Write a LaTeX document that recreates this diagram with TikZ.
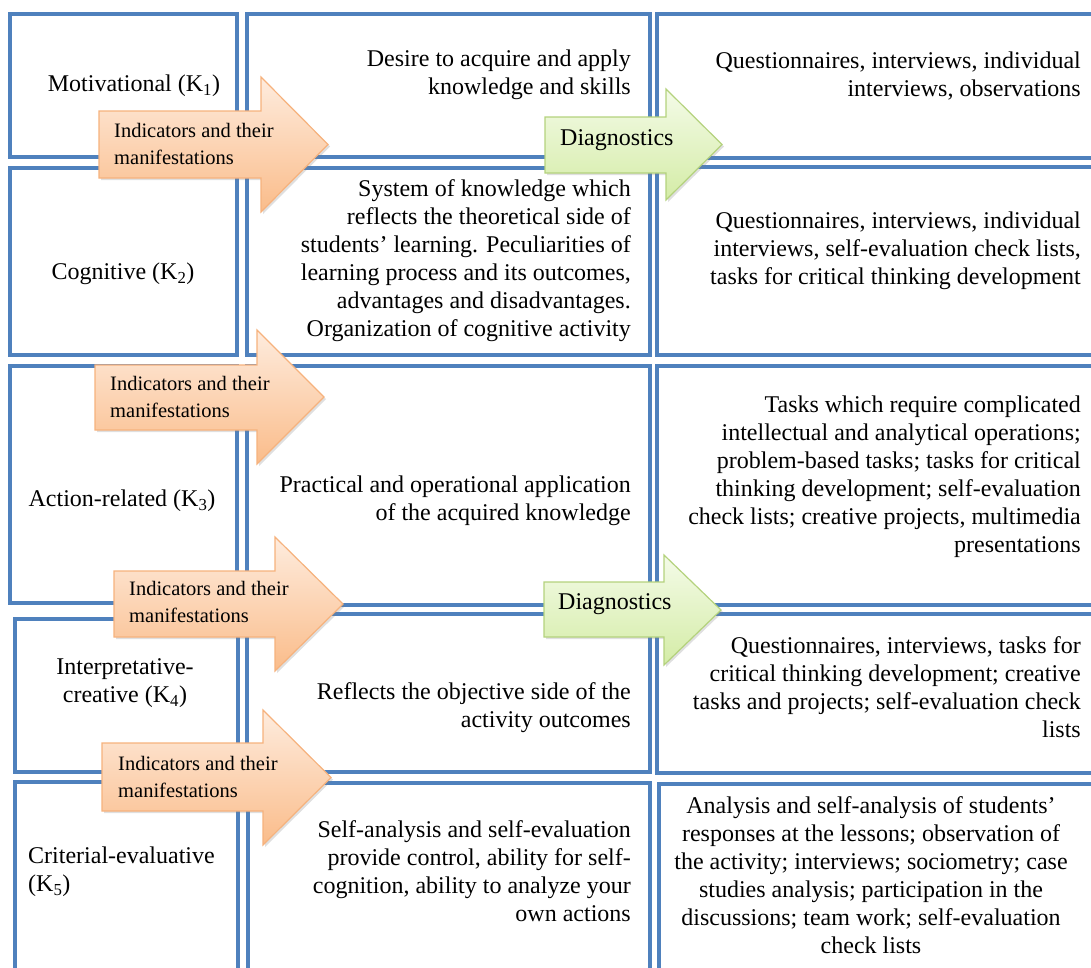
\documentclass[tikz,border=0pt]{standalone}
\usepackage{fontspec}
\setmainfont{Liberation Serif}
\usetikzlibrary{shadows}
\definecolor{boxblue}{RGB}{79,129,189}
\definecolor{orline}{RGB}{246,178,125}
\definecolor{ortop}{RGB}{254,236,222}
\definecolor{orbot}{RGB}{250,188,138}
\definecolor{grline}{RGB}{180,210,125}
\definecolor{grtop}{RGB}{244,251,232}
\definecolor{grbot}{RGB}{212,236,166}
% #1 x-left, #2 body top, #3 body bottom, #4 head base x, #5 head top, #6 head bottom, #7 tip x, #8 tip y, #9 style
\newcommand\blockarrow[9]{%
  \path[#9] (#1,#2) -- (#4,#2) -- (#4,#5) -- (#7,#8) -- (#4,#6) -- (#4,#3) -- (#1,#3) -- cycle;}
\begin{document}
\begin{tikzpicture}[x=1pt,y=-1pt,
  box/.style={draw=boxblue,line width=4pt},
  orarrow/.style={draw=orline,line width=1.2pt,top color=ortop,bottom color=orbot,
    drop shadow={opacity=0.25,shadow xshift=2pt,shadow yshift=-2pt}},
  grarrow/.style={draw=grline,line width=1.2pt,top color=grtop,bottom color=grbot,
    drop shadow={opacity=0.25,shadow xshift=2pt,shadow yshift=-2pt}},
  txt/.style={inner sep=0pt,font=\fontsize{24}{28}\selectfont},
  atxt/.style={inner sep=0pt,anchor=west,align=left,font=\fontsize{20.5}{27}\selectfont},
  dtxt/.style={inner sep=0pt,anchor=west,font=\fontsize{24}{28}\selectfont},
  rtxt/.style={txt,anchor=east,align=right},
  ctxt/.style={txt,align=center}]
\useasboundingbox (0,0) rectangle (1091,967);
% column 1
\draw[box] (10,14) rectangle (237,157);
\draw[box] (10,168) rectangle (237,355);
\draw[box] (10,366) rectangle (237,603);
\draw[box] (15,619) rectangle (238,772);
\draw[box] (15,782) rectangle (238,980);
% column 2
\draw[box] (247,14) rectangle (650,157);
\draw[box] (247,168) rectangle (650,355);
\draw[box] (247,366) rectangle (650,605);
\draw[box] (247,614) rectangle (650,772);
\draw[box] (248,783) rectangle (650,980);
% column 3
\draw[box] (657,14) rectangle (1110,158);
\draw[box] (657,167) rectangle (1110,355);
\draw[box] (657,366) rectangle (1110,605);
\draw[box] (657,614) rectangle (1110,773);
\draw[box] (659,784) rectangle (1110,980);
% column 1 texts
\node[ctxt] (k1) at (134,86) {Motivational (K\textsubscript{1})};
\node[ctxt] (k2) at (123,274) {Cognitive (K\textsubscript{2})};
\node[ctxt] (k3) at (122,501) {Action-related (K\textsubscript{3})};
\node[ctxt] (k4) at (125,683) {Interpretative-\\creative (K\textsubscript{4})};
\node[txt,anchor=west,align=left] (k5) at (28,872) {Criterial-evaluative\\(K\textsubscript{5})};
% column 2 texts
\node[rtxt] (c1) at (631,75) {Desire to acquire and apply\\knowledge and skills};
\node[rtxt] (c2) at (631,261) {System of knowledge which\\reflects the theoretical side of\\students’ learning. Peculiarities of\\learning process and its outcomes,\\advantages and disadvantages.\\Organization of cognitive activity};
\node[rtxt] (c3) at (631,501) {Practical and operational application\\of the acquired knowledge};
\node[rtxt] (c4) at (631,708) {Reflects the objective side of the\\activity outcomes};
\node[rtxt] (c5) at (631,871) {Self-analysis and self-evaluation\\provide control, ability for self-\\cognition, ability to analyze your\\own actions};
% column 3 texts
\node[rtxt] (m1) at (1081,76) {Questionnaires, interviews, individual\\interviews, observations};
\node[rtxt] (m2) at (1081,251) {Questionnaires, interviews, individual\\interviews, self-evaluation check lists,\\tasks for critical thinking development};
\node[rtxt] (m3) at (1081,477) {Tasks which require complicated\\intellectual and analytical operations;\\problem-based tasks; tasks for critical\\thinking development; self-evaluation\\check lists; creative projects, multimedia\\presentations};
\node[rtxt] (m4) at (1081,687) {Questionnaires, interviews, tasks for\\critical thinking development; creative\\tasks and projects; self-evaluation check\\lists};
\node[ctxt] (m5) at (871,875) {Analysis and self-analysis of students’\\responses at the lessons; observation of\\the activity; interviews; sociometry; case\\studies analysis; participation in the\\discussions; team work; self-evaluation\\check lists};
% orange arrows
\blockarrow{99}{111}{178}{261}{77}{212}{328}{144.5}{orarrow}
\blockarrow{95}{365}{430}{257}{330}{464}{324}{397}{orarrow}
\blockarrow{114}{571}{637}{275}{537}{671}{343}{604}{orarrow}
\blockarrow{102}{743}{811}{263}{710}{845}{331}{777.5}{orarrow}
% green arrows
\blockarrow{545}{117}{173}{666}{89}{200}{722}{144.5}{grarrow}
\blockarrow{544}{582}{637}{664}{555}{665}{721}{610}{grarrow}
% arrow texts
\node[atxt] (i1) at (114,144) {Indicators and their\\manifestations};
\node[atxt] (i2) at (110,397) {Indicators and their\\manifestations};
\node[atxt] (i3) at (129,602) {Indicators and their\\manifestations};
\node[atxt] (i4) at (118,777) {Indicators and their\\manifestations};
\node[dtxt] (g1) at (560,140) {Diagnostics};
\node[dtxt] (g2) at (558,604) {Diagnostics};
\end{tikzpicture}
\end{document}
